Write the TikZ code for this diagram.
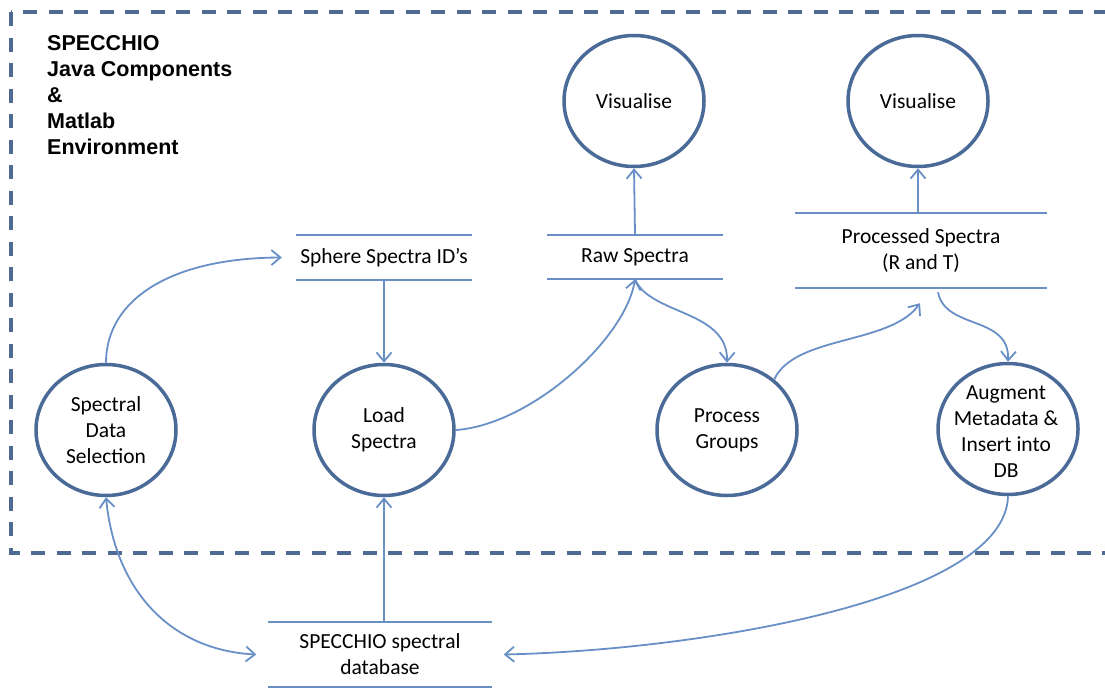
\documentclass[tikz,border=0pt]{standalone}
\usepackage{fontspec}
\setmainfont{Carlito}
\newfontfamily\headfont{Liberation Sans}
\usetikzlibrary{arrows.meta,shapes.geometric,calc}
\definecolor{circ}{HTML}{4A6A98}
\definecolor{conn}{HTML}{6990C6}
\definecolor{framec}{HTML}{4F6B93}
\begin{document}
\begin{tikzpicture}[x=1pt,y=-1pt,
  >={Straight Barb[length=9pt,width=15pt]},
  txt/.style={font=\fontsize{21.5}{26}\selectfont,align=center},
  proc/.style={ellipse,draw=circ,line width=3.5pt,minimum width=140pt,minimum height=131pt,inner sep=0pt,txt},
  storeline/.style={draw=conn,line width=1.8pt},
  store/.style={inner sep=0pt,txt,append after command={(\tikzlastnode.north west) edge[storeline] (\tikzlastnode.north east) (\tikzlastnode.south west) edge[storeline] (\tikzlastnode.south east)}},
  flow/.style={draw=conn,line width=1.8pt,->},
  frameline/.style={draw=framec,line width=3.3pt,dash pattern=on 14pt off 11.5pt}
]
\useasboundingbox (0,0) rectangle (1105,688);
\begin{scope}
\clip (0,0) rectangle (1105,688);
\draw[frameline] (11,12) rectangle (1115,553);
\end{scope}

\node[anchor=base west,inner sep=0pt,align=left,font=\headfont\bfseries\fontsize{21.5}{25.8}\selectfont] (title) at (47,154) {SPECCHIO\\Java Components\\\&\\Matlab\\Environment};

% data stores
\node[store,minimum width=176pt,minimum height=45pt] (sph) at (384,257.5) {Sphere Spectra ID’s};
\node[store,minimum width=176pt,minimum height=44pt] (raw) at (635,257) {Raw Spectra};
\node[store,minimum width=252pt,minimum height=75pt] (prs) at (921,250.5) {Processed Spectra\\(R and T)};
\node[store,minimum width=223pt,minimum height=65pt] (db) at (380,654.5) {SPECCHIO spectral\\database};

% processes
\node[proc] (vis1) at (634,101) {Visualise};
\node[proc] (vis2) at (918,101) {Visualise};
\node[proc] (sds) at (106,430) {Spectral\\Data\\Selection};
\node[proc] (load) at (384,430) {Load\\Spectra};
\node[proc] (pg) at (727,430) {Process\\Groups};
\node[proc,label={[txt,xshift=-2pt,yshift=-3pt]center:Augment\\Metadata \&\\Insert into\\DB}] (aug) at (1008,429) {};

% flows
\draw[flow] (sds.north) .. controls (106,300) and (170,258) .. ($(sph.west)+(-14,0)$);
\draw[flow] (sph.south) -- (load.north);
\draw[flow] (load.east) .. controls (530,425) and (625,340) .. (raw.south);
\draw[flow] (raw.south) .. controls (650,315) and (728,310) .. (pg.north);
\draw[flow] (pg.47) .. controls (795,335) and (890,345) .. ($(prs.south)+(-1,15)$);
\draw[flow] ($(prs.south)+(17,4)$) .. controls (945,330) and (1010,315) .. (aug.north);
\draw[flow] (aug.south) .. controls (1005,600) and (700,650) .. ($(db.east)+(12,0)$);
\draw[flow] (load.south |- db.north) -- (load.south);
\draw[flow,<->] (sds.south) .. controls (115,590) and (170,650) .. ($(db.west)+(-12,0)$);
\draw[flow] (raw.north) -- (vis1.south);
\draw[flow] (vis2.south |- prs.north) -- (vis2.south);
\end{tikzpicture}
\end{document}
